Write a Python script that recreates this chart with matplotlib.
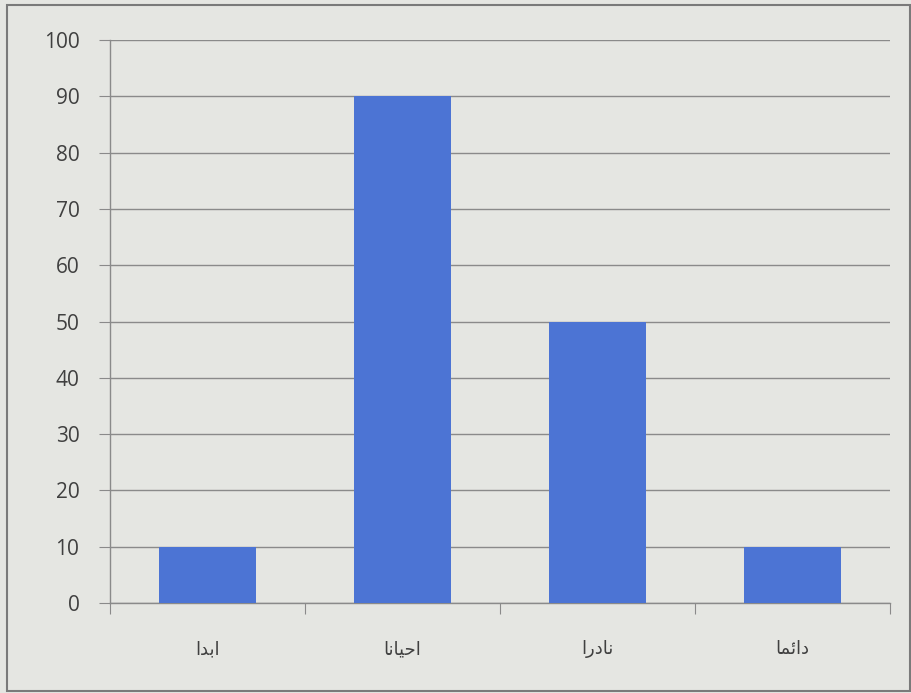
import matplotlib.pyplot as plt
from matplotlib.patches import Rectangle

# data
categories = ["ابدا", "احيانا", "نادرا", "دائما"]
values = [10, 90, 50, 10]
y_ticks = [0, 10, 20, 30, 40, 50, 60, 70, 80, 90, 100]

# matplotlib does not shape Arabic, so map letters to presentation forms
# (isolated, final, initial, medial); None = letter does not join to the next one
FORMS = {
    "ا": ("\ufe8d", "\ufe8e", None, None),
    "ب": ("\ufe8f", "\ufe90", "\ufe91", "\ufe92"),
    "د": ("\ufea9", "\ufeaa", None, None),
    "ح": ("\ufea1", "\ufea2", "\ufea3", "\ufea4"),
    "ي": ("\ufef1", "\ufef2", "\ufef3", "\ufef4"),
    "ن": ("\ufee5", "\ufee6", "\ufee7", "\ufee8"),
    "ئ": ("\ufe89", "\ufe8a", "\ufe8b", "\ufe8c"),
    "م": ("\ufee1", "\ufee2", "\ufee3", "\ufee4"),
    "ر": ("\ufead", "\ufeae", None, None),
}


def shape(word):
    out = []
    n = len(word)
    for i, ch in enumerate(word):
        iso, fin, ini, med = FORMS[ch]
        prev_joins = i > 0 and FORMS[word[i - 1]][2] is not None
        next_ok = i < n - 1 and ini is not None
        if prev_joins and next_ok:
            out.append(med)
        elif prev_joins:
            out.append(fin)
        elif next_ok:
            out.append(ini)
        else:
            out.append(iso)
    return "".join(reversed(out))


bg = "#e5e6e2"
fig = plt.figure(figsize=(9.12, 6.93), dpi=100, facecolor=bg)
ax = fig.add_axes([0.1206, 0.130, 0.855, 0.812])
ax.set_facecolor(bg)

x = range(len(categories))
ax.bar(x, values, width=0.5, color="#4c74d4", zorder=3)

ax.set_ylim(0, 100)
ax.set_xlim(-0.5, len(categories) - 0.5)
ax.set_yticks(y_ticks)
ax.set_yticklabels([str(v) for v in y_ticks], family="Open Sans")
ax.yaxis.grid(True, color="#8a8a8a", linewidth=1, zorder=0)
ax.tick_params(axis="y", length=8, color="#8a8a8a", labelsize=15, labelcolor="#404040", pad=14)

# category boundaries carry the tick marks, labels sit in the middle
ax.set_xticks([i - 0.5 for i in range(len(categories) + 1)])
ax.set_xticklabels([])
ax.tick_params(axis="x", which="major", length=8, color="#8a8a8a", direction="out")
ax.set_xticks(list(x), minor=True)
ax.set_xticklabels([shape(c) for c in categories], minor=True, fontsize=13,
                   color="#404040", family="DejaVu Sans")
ax.tick_params(axis="x", which="minor", length=0, pad=27)

for s in ["top", "right"]:
    ax.spines[s].set_visible(False)
for s in ["left", "bottom"]:
    ax.spines[s].set_color("#8a8a8a")
    ax.spines[s].set_linewidth(1)

# outer frame of the chart
fig.patches.append(Rectangle((0.008, 0.003), 0.99, 0.99, transform=fig.transFigure,
                             fill=False, edgecolor="#7a7a7a", linewidth=1.5))

fig.savefig("out.png", dpi=100, facecolor=bg)
